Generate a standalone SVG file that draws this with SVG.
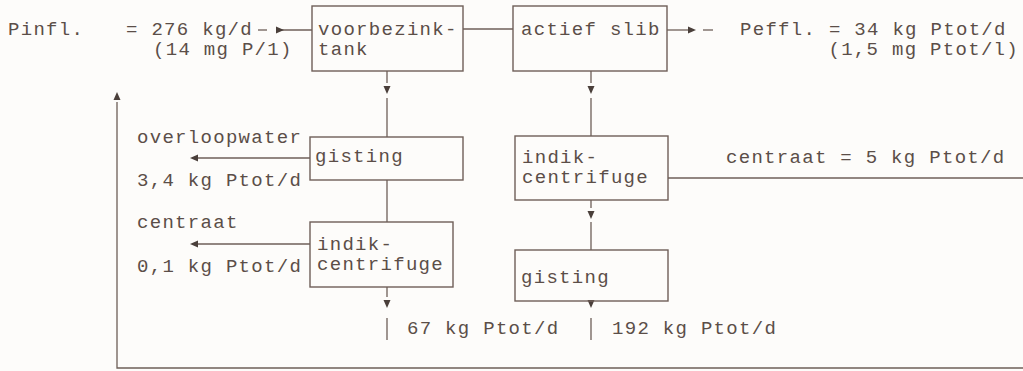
<svg xmlns="http://www.w3.org/2000/svg" width="1023" height="371" viewBox="0 0 1023 371">
<defs>
<style>
.box{fill:none;stroke:#6e5f58;stroke-width:1.4}
.ln{fill:none;stroke:#6e5f58;stroke-width:1.3}
.ah{fill:#4a3f3a}
.t{font-family:"Liberation Mono","Courier New",monospace;font-size:19px;letter-spacing:1.3px;fill:#5b4e48}
</style>
<path id="ad" d="M-3.5,0 L3.5,0 L0,8 Z"/>
<path id="au" d="M-3.5,0 L3.5,0 L0,-8 Z"/>
<path id="ar" d="M0,-3.5 L0,3.5 L8,0 Z"/>
<path id="al" d="M0,-3.5 L0,3.5 L-8,0 Z"/>
</defs>
<rect width="1023" height="371" fill="#fdfcfa"/>

<g id="connectors">
<line class="ln" x1="258" y1="30" x2="267" y2="30"/>
<line class="ln" x1="276" y1="30" x2="312" y2="30"/>
<use href="#ar" class="ah" x="276" y="30"/>
<line class="ln" x1="463" y1="29" x2="513" y2="29"/>
<line class="ln" x1="667" y1="30" x2="688" y2="30"/>
<use href="#ar" class="ah" x="688" y="30"/>
<line class="ln" x1="703" y1="30" x2="713" y2="30"/>
<line class="ln" x1="387" y1="71" x2="387" y2="83"/>
<use href="#ad" class="ah" x="387" y="86"/>
<line class="ln" x1="387" y1="98" x2="387" y2="137"/>
<line class="ln" x1="591" y1="71" x2="591" y2="83"/>
<use href="#ad" class="ah" x="591" y="86"/>
<line class="ln" x1="591" y1="98" x2="591" y2="136"/>
<line class="ln" x1="194" y1="158" x2="310" y2="158"/>
<use href="#al" class="ah" x="198" y="158"/>
<line class="ln" x1="194" y1="244" x2="310" y2="244"/>
<use href="#al" class="ah" x="198" y="244"/>
<line class="ln" x1="387" y1="180" x2="387" y2="222"/>
<line class="ln" x1="591" y1="200" x2="591" y2="208"/>
<use href="#ad" class="ah" x="591" y="211"/>
<line class="ln" x1="591" y1="222" x2="591" y2="250"/>
<line class="ln" x1="387" y1="287" x2="387" y2="297"/>
<use href="#ad" class="ah" x="387" y="300"/>
<use href="#ad" class="ah" x="591" y="300"/>
<line class="ln" x1="387" y1="318" x2="387" y2="340"/>
<line class="ln" x1="591" y1="318" x2="591" y2="340"/>
<polyline class="ln" points="668,178 1023,178"/>
<polyline class="ln" points="1023,368 117,368 117,102"/>
<use href="#au" class="ah" x="117" y="100"/>
</g>

<g id="voorbezinktank">
<rect class="box" x="312" y="6" width="151" height="65"/>
<text class="t" x="318" y="35">voorbezink-</text>
<text class="t" x="318" y="55">tank</text>
</g>
<g id="actief-slib">
<rect class="box" x="513" y="6" width="154" height="65"/>
<text class="t" x="521" y="35">actief slib</text>
</g>
<g id="gisting-1">
<rect class="box" x="310" y="137" width="153" height="43"/>
<text class="t" x="315" y="162">gisting</text>
</g>
<g id="indik-centrifuge-1">
<rect class="box" x="310" y="222" width="143" height="65"/>
<text class="t" x="317" y="250">indik-</text>
<text class="t" x="317" y="270">centrifuge</text>
</g>
<g id="indik-centrifuge-2">
<rect class="box" x="515" y="136" width="153" height="64"/>
<text class="t" x="522" y="163">indik-</text>
<text class="t" x="522" y="183">centrifuge</text>
</g>
<g id="gisting-2">
<rect class="box" x="515" y="250" width="153" height="51"/>
<text class="t" x="521" y="283">gisting</text>
</g>

<g id="labels">
<text class="t" x="8" y="35">Pinfl.</text>
<text class="t" x="126" y="35">= 276 kg/d</text>
<text class="t" x="153" y="55">(14 mg P/1)</text>
<text class="t" x="740" y="35">Peffl. = 34 kg Ptot/d</text>
<text class="t" x="1019" y="55" text-anchor="end">(1,5 mg Ptot/l)</text>
<text class="t" x="137" y="143">overloopwater</text>
<text class="t" x="137" y="186">3,4 kg Ptot/d</text>
<text class="t" x="137" y="228">centraat</text>
<text class="t" x="137" y="272">0,1 kg Ptot/d</text>
<text class="t" x="726" y="163">centraat = 5 kg Ptot/d</text>
<text class="t" x="407" y="334">67 kg Ptot/d</text>
<text class="t" x="612" y="334">192 kg Ptot/d</text>
</g>
</svg>
